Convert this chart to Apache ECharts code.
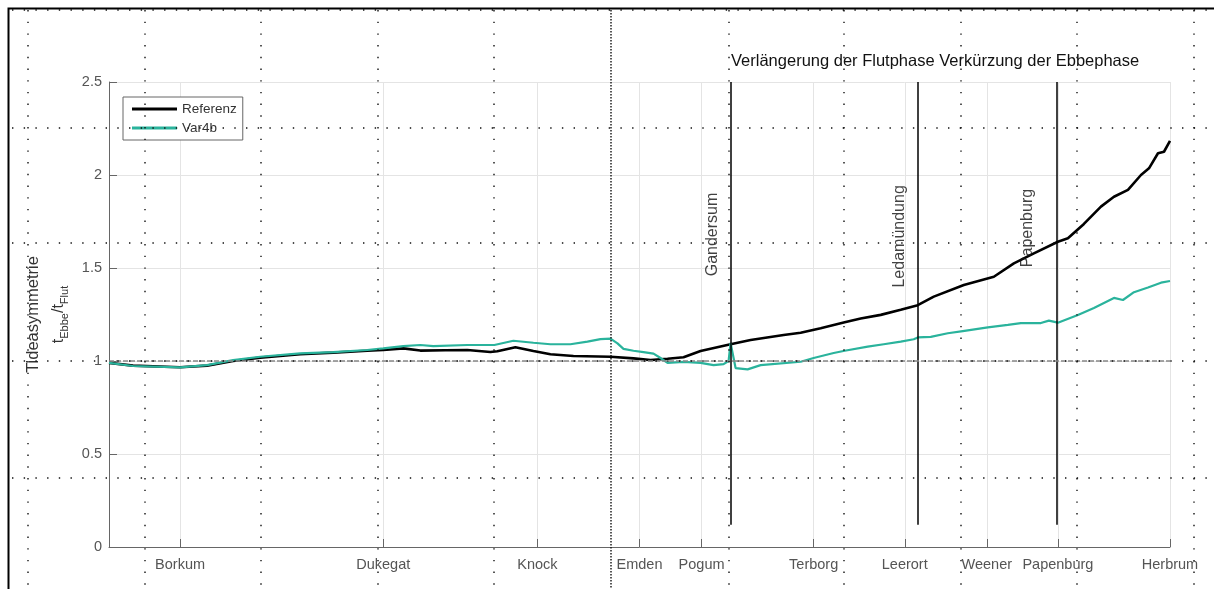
<!DOCTYPE html>
<html>
<head>
<meta charset="utf-8">
<title>Tideasymmetrie</title>
<script src="https://cdn.jsdelivr.net/npm/echarts@6/dist/echarts.min.js"></script>
<style>
  html, body { margin: 0; padding: 0; background: #fff; }
  #chart { width: 1214px; height: 589px; }
</style>
</head>
<body>
<div id="chart"></div>
<script>
// Stationen entlang der Achse (km ab Modellrand)
var stationNames = ['Borkum', 'Dukegat', 'Knock', 'Emden', 'Pogum', 'Terborg', 'Leerort', 'Weener', 'Papenburg', 'Herbrum'];
var stationKm = [7.1, 27.4, 42.8, 53.0, 59.2, 70.4, 79.5, 87.7, 94.8, 106.0];

// Referenz
var refKm = [0.0, 2.4, 7.1, 9.8, 12.4, 15.1, 19.1, 22.4, 25.8, 27.4, 29.4, 31.1, 33.6, 35.8, 38.1, 38.8,
  40.6, 42.4, 44.1, 46.4, 50.1, 52.4, 54.1, 55.8, 57.4, 59.1, 62.1, 64.1, 67.4, 69.1, 71.1, 73.5,
  75.1, 77.1, 79.1, 80.8, 82.4, 85.4, 88.4, 90.4, 92.4, 94.8, 95.8, 97.4, 99.1, 100.4, 101.8, 103.1,
  103.9, 104.8, 105.4, 106.0];
var refVal = [0.99, 0.975, 0.966, 0.975, 1.0, 1.018, 1.036, 1.045, 1.055, 1.059, 1.068, 1.056, 1.058, 1.059, 1.048, 1.052,
  1.074, 1.054, 1.036, 1.027, 1.023, 1.014, 1.005, 1.012, 1.02, 1.054, 1.09, 1.113, 1.14, 1.152, 1.176, 1.208,
  1.228, 1.248, 1.275, 1.30, 1.346, 1.409, 1.453, 1.525, 1.579, 1.641, 1.66, 1.737, 1.83, 1.883, 1.92, 2.0,
  2.036, 2.117, 2.125, 2.183];

// Var4b
var varKm = [0.0, 2.4, 7.1, 9.8, 12.4, 15.1, 19.1, 22.4, 25.8, 27.4, 29.4, 31.1, 32.4, 35.8, 38.5, 40.4,
  42.4, 44.1, 46.1, 47.8, 49.1, 50.1, 50.8, 51.4, 52.4, 53.4, 54.4, 55.1, 55.8, 57.4, 59.1, 60.4,
  61.4, 61.9, 62.1, 62.6, 63.8, 65.1, 69.1, 70.4, 72.4, 73.5, 75.8, 77.4, 79.1, 80.4, 80.8, 82.1,
  83.8, 85.3, 87.8, 89.8, 91.1, 93.1, 93.9, 94.8, 96.8, 98.4, 100.4, 101.3, 102.4, 103.8, 105.1, 106.0];
var varVal = [0.99, 0.973, 0.966, 0.978, 1.005, 1.023, 1.041, 1.048, 1.059, 1.068, 1.08, 1.086, 1.08, 1.086, 1.086, 1.109,
  1.098, 1.09, 1.09, 1.104, 1.118, 1.12, 1.095, 1.065, 1.055, 1.048, 1.04, 1.016, 0.99, 0.995, 0.99, 0.978,
  0.983, 1.0, 1.097, 0.962, 0.955, 0.978, 0.996, 1.016, 1.043, 1.055, 1.077, 1.09, 1.104, 1.117, 1.127, 1.13,
  1.149, 1.161, 1.181, 1.194, 1.204, 1.204, 1.217, 1.206, 1.247, 1.285, 1.339, 1.328, 1.37, 1.395, 1.421, 1.43];

// senkrechte Markierungen
var markerNames = ['Gandersum', 'Ledamündung', 'Papenburg'];
var markerKm = [62.1, 80.8, 94.7];
var markerLabelKm = [60.3, 79.0, 91.8];
var markerLabelVal = [1.68, 1.67, 1.715];

var FONT = '"Liberation Sans", Arial, sans-serif';

function zip(xs, ys) {
  return xs.map(function (x, i) { return [x, ys[i]]; });
}

var chart = echarts.init(document.getElementById('chart'));

// Hilfsraster der Seite (gepunktet), reine Dekoration
var pageGridX = [28, 145, 261, 378, 494, 729, 844, 961, 1077, 1194];
var pageGridY = [10, 128, 243, 361, 478];
var graphics = [];
var dotStyle = { stroke: '#111', lineWidth: 1.4, lineDash: [1.4, 10.3] };
pageGridX.forEach(function (x) {
  graphics.push({ type: 'line', silent: true, z: 100,
    shape: { x1: x, y1: 10, x2: x, y2: 589 }, style: dotStyle });
});
pageGridY.forEach(function (y) {
  graphics.push({ type: 'line', silent: true, z: 100,
    shape: { x1: 12, y1: y, x2: 1214, y2: y }, style: dotStyle });
});
graphics.push({ type: 'line', silent: true, z: 100,
  shape: { x1: 611, y1: 10, x2: 611, y2: 589 },
  style: { stroke: '#111', lineWidth: 1.4, lineDash: [1.4, 1.6] } });
// Seitenrand
graphics.push({ type: 'polyline', silent: true, z: 101,
  shape: { points: [[8.5, 589], [8.5, 8.5], [1214, 8.5]] },
  style: { stroke: '#000', lineWidth: 2, fill: null } });

var option = {
  backgroundColor: '#fff',
  animation: false,
  textStyle: { fontFamily: FONT },
  title: {
    text: 'Verlängerung der Flutphase Verkürzung der Ebbephase',
    left: 726,
    top: 48,
    textStyle: { fontSize: 16.5, fontWeight: 'normal', color: '#111', fontFamily: FONT }
  },
  legend: {
    data: ['Referenz', 'Var4b'],
    orient: 'vertical',
    left: 123,
    top: 97,
    padding: [5, 6, 5, 9],
    itemGap: 5,
    itemWidth: 45,
    itemHeight: 3,
    icon: 'rect',
    backgroundColor: '#fff',
    borderColor: '#666',
    borderWidth: 1,
    borderRadius: 0,
    textStyle: { fontSize: 13.5, color: '#333', fontFamily: FONT }
  },
  graphic: graphics,
  grid: { left: 109, right: 44, top: 82, bottom: 42 },
  xAxis: {
    type: 'value',
    min: 0,
    max: 106,
    axisLine: { lineStyle: { color: '#666', width: 1 } },
    axisTick: { inside: true, length: 8, customValues: stationKm, lineStyle: { color: '#666' } },
    axisLabel: {
      customValues: stationKm,
      margin: 10,
      fontSize: 14.5,
      color: '#555',
      fontFamily: FONT,
      formatter: function (v) {
        var i = stationKm.indexOf(v);
        return i >= 0 ? stationNames[i] : '';
      }
    },
    splitLine: { show: true, lineStyle: { color: '#e4e4e4', width: 1 } }
  },
  yAxis: {
    type: 'value',
    min: 0,
    max: 2.5,
    interval: 0.5,
    name: '{a|Tideasymmetrie}\n{b|t}{c|Ebbe}{b|/t}{c|Flut}',
    nameLocation: 'middle',
    nameRotate: 90,
    nameGap: 38,
    nameTextStyle: {
      color: '#333',
      fontFamily: FONT,
      rich: {
        a: { fontSize: 16.5, lineHeight: 26, color: '#333', fontFamily: FONT },
        b: { fontSize: 16, lineHeight: 24, color: '#333', fontFamily: FONT },
        c: { fontSize: 11, verticalAlign: 'bottom', color: '#333', fontFamily: FONT }
      }
    },
    axisLine: { show: true, lineStyle: { color: '#666', width: 1 } },
    axisTick: { show: true, inside: true, length: 8, lineStyle: { color: '#666' } },
    axisLabel: { margin: 7, fontSize: 14.5, color: '#555', fontFamily: FONT },
    splitLine: { show: true, lineStyle: { color: '#e4e4e4', width: 1 } }
  },
  series: [
    {
      name: 'Referenz',
      type: 'line',
      data: zip(refKm, refVal),
      symbol: 'none',
      color: '#000',
      lineStyle: { color: '#000', width: 2.6 },
      z: 3,
      markLine: {
        silent: true,
        symbol: 'none',
        label: { show: false },
        lineStyle: { color: '#000', width: 1.5, type: 'solid' },
        data: markerKm.map(function (k) {
          return [{ coord: [k, 0.12] }, { coord: [k, 2.5] }];
        }).concat([{ yAxis: 1, lineStyle: { color: '#888', width: 1.5, type: [5, 2] } }])
      }
    },
    {
      name: 'Var4b',
      type: 'line',
      data: zip(varKm, varVal),
      symbol: 'none',
      color: '#2ab39c',
      lineStyle: { color: '#2ab39c', width: 2.2 },
      z: 4
    },
    {
      name: 'Marken',
      type: 'scatter',
      symbolSize: 0,
      silent: true,
      data: markerNames.map(function (n, i) {
        return { name: n, value: [markerLabelKm[i], markerLabelVal[i]] };
      }),
      label: {
        show: true,
        position: 'inside',
        rotate: 90,
        formatter: '{b}',
        fontSize: 16,
        color: '#111',
        fontFamily: FONT
      },
      z: 5
    }
  ]
};

chart.setOption(option);
</script>
</body>
</html>
